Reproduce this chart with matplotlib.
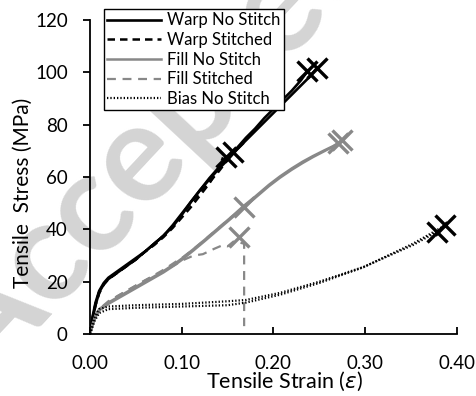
import matplotlib
matplotlib.use('Agg')
import matplotlib.pyplot as plt

plt.rcParams['font.family'] = ['Lato', 'DejaVu Sans']

# warp, no stitch (two specimens)
warp_ns_x1 = [0, 0.003, 0.006, 0.010, 0.015, 0.020, 0.030, 0.040, 0.050, 0.060, 0.070, 0.080,
              0.090, 0.100, 0.110, 0.120, 0.130, 0.140, 0.150, 0.160, 0.170, 0.180, 0.190,
              0.200, 0.210, 0.220, 0.230, 0.237]
warp_ns_y1 = [0, 7, 12, 16.5, 19.5, 21.5, 24, 26.5, 29, 31.5, 34.5, 37.5, 41, 45.5, 50.5, 55,
              59.5, 63.5, 67, 71, 75, 78.5, 82.5, 86, 89.5, 93, 97, 100.5]
warp_ns_x2 = [0, 0.003, 0.006, 0.010, 0.015, 0.020, 0.030, 0.040, 0.050, 0.060, 0.070, 0.080,
              0.090, 0.100, 0.110, 0.120, 0.130, 0.140, 0.150, 0.160, 0.170, 0.180, 0.190,
              0.200, 0.210, 0.220, 0.230, 0.240, 0.247]
warp_ns_y2 = [0, 6, 11, 16, 19, 21, 23.5, 26, 28.5, 31.5, 34.5, 37.5, 41.5, 46, 50.5, 55,
              59, 63, 66.5, 70.5, 74, 77.5, 81, 84.5, 88, 91.5, 95, 98.5, 101.5]

# warp, stitched
warp_st_x1 = [0, 0.003, 0.006, 0.010, 0.015, 0.020, 0.030, 0.040, 0.050, 0.060, 0.070, 0.080,
              0.090, 0.100, 0.110, 0.120, 0.130, 0.140, 0.145]
warp_st_y1 = [0, 6.5, 11.5, 16, 19, 21, 23.5, 26, 28.5, 31.5, 34, 37, 40.5, 44.5, 48.5, 53,
              57.5, 63, 67.5]
warp_st_x2 = [0, 0.003, 0.006, 0.010, 0.015, 0.020, 0.030, 0.040, 0.050, 0.060, 0.070, 0.080,
              0.090, 0.100, 0.110, 0.120, 0.130, 0.140, 0.150, 0.156]
warp_st_y2 = [0, 6, 11, 15.5, 19, 21, 23.5, 26, 28.5, 31.5, 34.5, 37.5, 41, 45.5, 50, 54,
              58, 62, 66.5, 69.5]

# fill, no stitch
fill_ns_x1 = [0, 0.003, 0.006, 0.010, 0.020, 0.030, 0.040, 0.050, 0.060, 0.080, 0.093, 0.100,
              0.113, 0.125, 0.140, 0.155, 0.167, 0.180, 0.195, 0.207, 0.220, 0.232, 0.243,
              0.255, 0.265, 0.270]
fill_ns_y1 = [0, 4, 7, 9.5, 12, 14, 16, 18, 20, 24, 27, 28.8, 32.5, 36, 40.5, 45, 48.8, 52.5,
              57, 60.2, 63.3, 65.9, 68, 70.1, 71.8, 72.8]
fill_ns_x2 = [0, 0.003, 0.006, 0.010, 0.020, 0.030, 0.040, 0.050, 0.060, 0.080, 0.093, 0.100,
              0.113, 0.125, 0.140, 0.155, 0.167, 0.180, 0.195, 0.207, 0.220, 0.232, 0.243,
              0.255, 0.265, 0.275]
fill_ns_y2 = [0, 3.5, 6.5, 9, 11.5, 13.5, 15.5, 17.5, 19.5, 23.5, 26.5, 28.3, 32, 35.5, 40,
              44.5, 48.3, 52, 56.5, 59.7, 62.8, 65.4, 67.6, 69.8, 71.6, 74]

# fill, stitched
fill_st_x1 = [0, 0.003, 0.006, 0.010, 0.020, 0.030, 0.040, 0.050, 0.060, 0.080, 0.093, 0.100,
              0.113, 0.123, 0.135, 0.145, 0.150, 0.157, 0.168, 0.168]
fill_st_y1 = [0, 4, 7, 9.5, 12, 14.5, 16.5, 18.5, 20.5, 24, 26.5, 28, 30, 30.5, 32.5, 34,
              33.5, 35.5, 34.5, 3]
fill_st_x2 = [0, 0.003, 0.006, 0.010, 0.020, 0.030, 0.040, 0.050, 0.060, 0.080, 0.093, 0.100,
              0.113, 0.125, 0.140, 0.155, 0.168]
fill_st_y2 = [0, 4, 7, 9.5, 12.5, 14.5, 16.5, 18.5, 20.5, 24.5, 27.5, 29, 32.5, 36, 40.5,
              45, 48.5]

# bias, no stitch
bias_ns_x1 = [0, 0.004, 0.010, 0.020, 0.050, 0.100, 0.150, 0.170, 0.207, 0.250, 0.298, 0.352,
              0.378]
bias_ns_y1 = [0, 6, 9.5, 10.5, 11, 11.5, 12.5, 13, 15.7, 20, 25.6, 34, 39]
bias_ns_x2 = [0, 0.005, 0.010, 0.020, 0.050, 0.100, 0.150, 0.170, 0.207, 0.250, 0.298, 0.352,
              0.387]
bias_ns_y2 = [0, 5, 8, 9.5, 10, 10.5, 11, 12, 15, 19.5, 25.5, 34.5, 41.5]

# failure points
warp_ns_fail_x = [0.237, 0.247]
warp_ns_fail_y = [100.5, 101.5]
warp_st_fail_x = [0.148, 0.156]
warp_st_fail_y = [67.5, 69.5]
fill_ns_fail_x = [0.270, 0.275]
fill_ns_fail_y = [73, 74]
fill_st_fail_x = [0.162, 0.168]
fill_st_fail_y = [37, 48.5]
bias_ns_fail_x = [0.378, 0.387]
bias_ns_fail_y = [39, 41.5]

gray = '#888888'

fig = plt.figure(figsize=(4.77, 3.96), dpi=100)
ax = fig.add_axes([0.1887, 0.1566, 0.7693, 0.7929])

# watermark behind everything
fig.text(0.33, 0.64, 'Accepted', fontsize=100, fontweight='bold', color='#d4d4d4',
         rotation=47, ha='center', va='center', zorder=-5)
ax.set_facecolor('none')

ax.plot(warp_ns_x1, warp_ns_y1, color='black', lw=1.9, label='Warp No Stitch')
ax.plot(warp_ns_x2, warp_ns_y2, color='black', lw=1.9)
ax.plot(warp_st_x1, warp_st_y1, color='black', lw=1.8, ls=(0, (3, 2)), label='Warp Stitched')
ax.plot(warp_st_x2, warp_st_y2, color='black', lw=1.8, ls=(0, (3, 2)))
ax.plot(fill_ns_x1, fill_ns_y1, color=gray, lw=1.8, label='Fill No Stitch')
ax.plot(fill_ns_x2, fill_ns_y2, color=gray, lw=1.8)
ax.plot(fill_st_x1, fill_st_y1, color=gray, lw=1.6, ls=(0, (4, 3)), label='Fill Stitched')
ax.plot(fill_st_x2, fill_st_y2, color=gray, lw=1.6, ls=(0, (4, 3)))
ax.plot(bias_ns_x1, bias_ns_y1, color='black', lw=1.6, ls=(0, (0.6, 0.9)), label='Bias No Stitch')
ax.plot(bias_ns_x2, bias_ns_y2, color='black', lw=1.6, ls=(0, (0.6, 0.9)))

mk = dict(marker='x', ls='none', ms=15, mew=2.4)
ax.plot(warp_ns_fail_x, warp_ns_fail_y, color='black', **mk)
ax.plot(warp_st_fail_x, warp_st_fail_y, color='black', **mk)
ax.plot(fill_ns_fail_x, fill_ns_fail_y, color=gray, **mk)
ax.plot(fill_st_fail_x, fill_st_fail_y, color=gray, **mk)
ax.plot(bias_ns_fail_x, bias_ns_fail_y, color='black', **mk)

ax.set_xlim(0, 0.40)
ax.set_ylim(0, 120)
ax.set_xticks([0, 0.1, 0.2, 0.3, 0.4])
ax.set_xticklabels(['0.00', '0.10', '0.20', '0.30', '0.40'])
ax.set_yticks(range(0, 121, 20))
ax.spines['top'].set_visible(False)
ax.spines['right'].set_visible(False)
for s in ['left', 'bottom']:
    ax.spines[s].set_linewidth(1.3)
ax.tick_params(axis='y', direction='out', length=5, width=1.3, labelsize=13.5, pad=11)
ax.tick_params(axis='x', direction='in', length=5, width=1.3, labelsize=13.5, pad=15)
ax.set_xlabel('Tensile Strain ($\\varepsilon$)', fontsize=15.5)
ax.xaxis.set_label_coords(0.53, -0.115)
ax.set_ylabel('Tensile  Stress (MPa)', fontsize=15)
ax.yaxis.set_label_coords(-0.155, 0.45)

leg = ax.legend(loc='upper left', bbox_to_anchor=(0.038, 1.035), fontsize=12, frameon=True,
                fancybox=False, edgecolor='black', framealpha=1, handlelength=3.2,
                borderpad=0.2, labelspacing=0.22, handletextpad=0.4, borderaxespad=0)
leg.get_frame().set_linewidth(1.0)

fig.savefig('out.png', dpi=100)
